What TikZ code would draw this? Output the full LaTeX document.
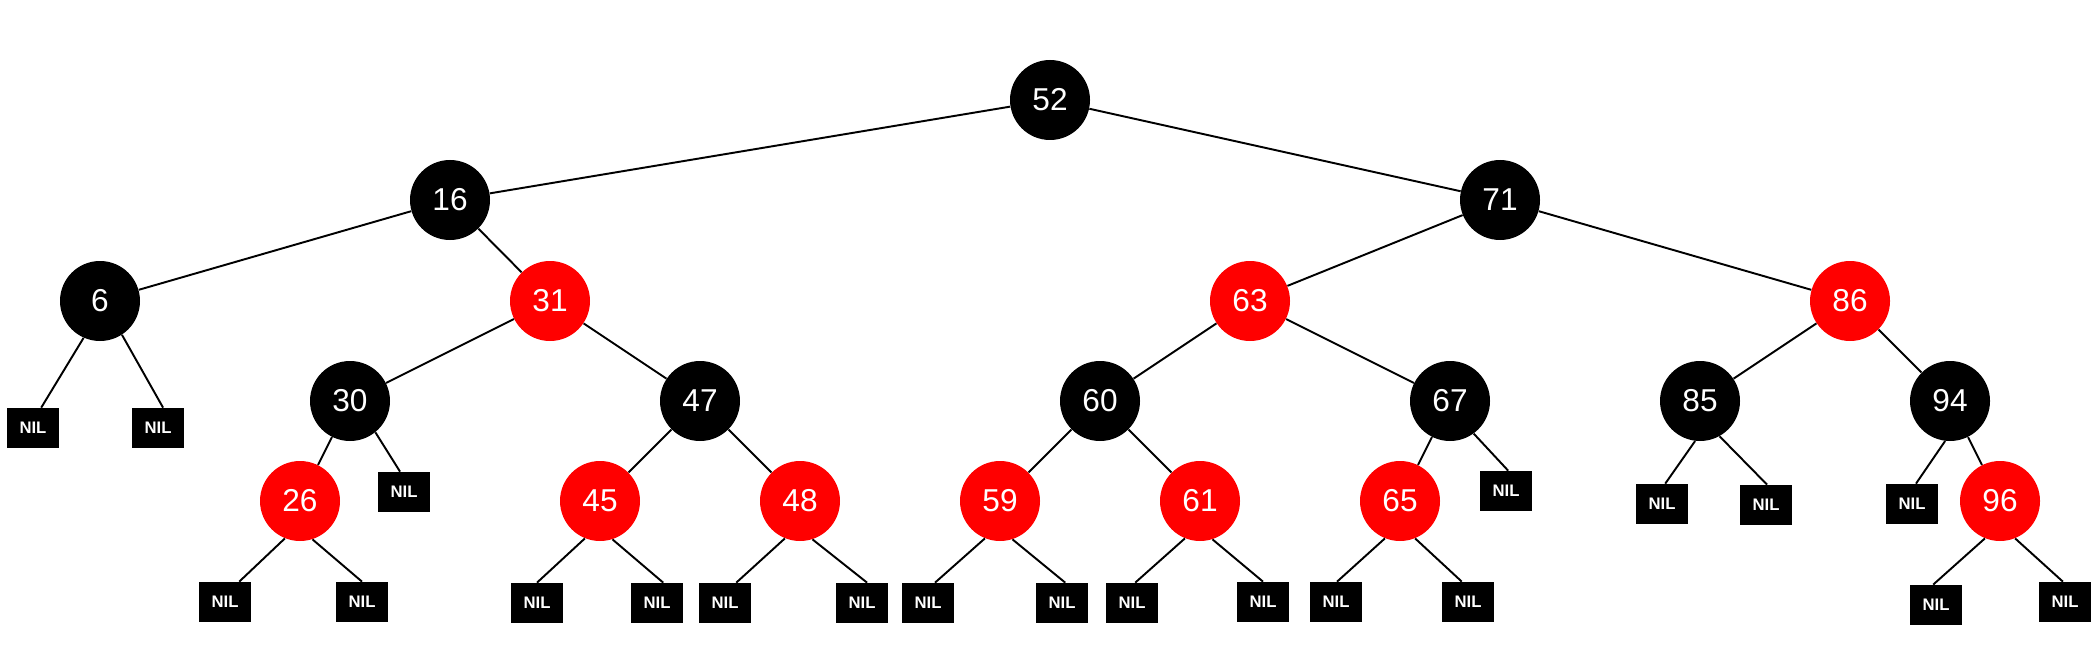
\documentclass[tikz,border=0pt]{standalone}
\usepackage{fontspec}
\setmainfont{Liberation Sans}

\begin{document}
\begin{tikzpicture}[
    blk/.style={circle, fill=black, text=white, minimum size=1.6cm, inner sep=0pt,
                font=\fontsize{18}{20}\selectfont},
    rd/.style={blk, fill=red},
    nil/.style={rectangle, fill=black, text=white, minimum width=1.04cm,
                minimum height=0.8cm, inner sep=0pt, font=\fontsize{9.5}{11}\selectfont\bfseries},
    edge/.style={line width=1.1pt}]
  \useasboundingbox (0,0) rectangle (42,12.98);

  % Inner nodes, one row per level
  \node[blk] (n52) at (21,10.98) {52};
  \node[blk] (n16) at (9,8.98) {16};
  \node[blk] (n71) at (30,8.98) {71};
  \node[blk] (n6)  at (2,6.96) {6};
  \node[rd]  (n31) at (11,6.96) {31};
  \node[rd]  (n63) at (25,6.96) {63};
  \node[rd]  (n86) at (37,6.96) {86};
  \node[blk] (n30) at (7,4.96) {30};
  \node[blk] (n47) at (14,4.96) {47};
  \node[blk] (n60) at (22,4.96) {60};
  \node[blk] (n67) at (29,4.96) {67};
  \node[blk] (n85) at (34,4.96) {85};
  \node[blk] (n94) at (39,4.96) {94};
  \node[rd]  (n26) at (6,2.96) {26};
  \node[rd]  (n45) at (12,2.96) {45};
  \node[rd]  (n48) at (16,2.96) {48};
  \node[rd]  (n59) at (20,2.96) {59};
  \node[rd]  (n61) at (24,2.96) {61};
  \node[rd]  (n65) at (28,2.96) {65};
  \node[rd]  (n96) at (40,2.96) {96};

  % Leaves
  \node[nil] (l6a)  at (0.66,4.42) {NIL};
  \node[nil] (l6b)  at (3.16,4.42) {NIL};
  \node[nil] (l30)  at (8.08,3.14) {NIL};
  \node[nil] (l26a) at (4.5,0.94) {NIL};
  \node[nil] (l26b) at (7.24,0.94) {NIL};
  \node[nil] (l45a) at (10.74,0.92) {NIL};
  \node[nil] (l45b) at (13.14,0.92) {NIL};
  \node[nil] (l48a) at (14.5,0.92) {NIL};
  \node[nil] (l48b) at (17.24,0.92) {NIL};
  \node[nil] (l59a) at (18.56,0.92) {NIL};
  \node[nil] (l59b) at (21.24,0.92) {NIL};
  \node[nil] (l61a) at (22.64,0.92) {NIL};
  \node[nil] (l61b) at (25.26,0.94) {NIL};
  \node[nil] (l65a) at (26.72,0.94) {NIL};
  \node[nil] (l65b) at (29.36,0.94) {NIL};
  \node[nil] (l67)  at (30.12,3.16) {NIL};
  \node[nil] (l85a) at (33.24,2.9) {NIL};
  \node[nil] (l85b) at (35.32,2.88) {NIL};
  \node[nil] (l94)  at (38.24,2.9) {NIL};
  \node[nil] (l96a) at (38.72,0.88) {NIL};
  \node[nil] (l96b) at (41.3,0.94) {NIL};

  % Edges between keys
  \foreach \a/\b in {n52/n16, n52/n71, n16/n6, n16/n31, n71/n63, n71/n86,
                     n31/n30, n31/n47, n63/n60, n63/n67, n86/n85, n86/n94,
                     n30/n26, n47/n45, n47/n48, n60/n59, n60/n61, n67/n65, n94/n96}
    \draw[edge] (\a) -- (\b);

  % Edges down to the leaves (parent angle / leaf angle)
  \foreach \a/\sa/\b/\ea in {n6/246/l6a/68, n6/303/l6b/76, n30/309/l30/101,
                     n26/248/l26a/55, n26/288/l26b/90, n45/248/l45a/90, n45/288/l45b/73,
                     n48/248/l48a/61, n48/288/l48b/76, n59/248/l59a/71, n59/288/l59b/81,
                     n61/248/l61a/81, n61/288/l61b/90, n65/248/l65a/87, n65/292/l65b/107,
                     n67/306/l67/84, n85/263/l85a/81, n85/299/l85b/87, n94/263/l94/79,
                     n96/248/l96a/98, n96/292/l96b/96}
    \draw[edge] (\a.\sa) -- (\b.\ea);
\end{tikzpicture}
\end{document}
